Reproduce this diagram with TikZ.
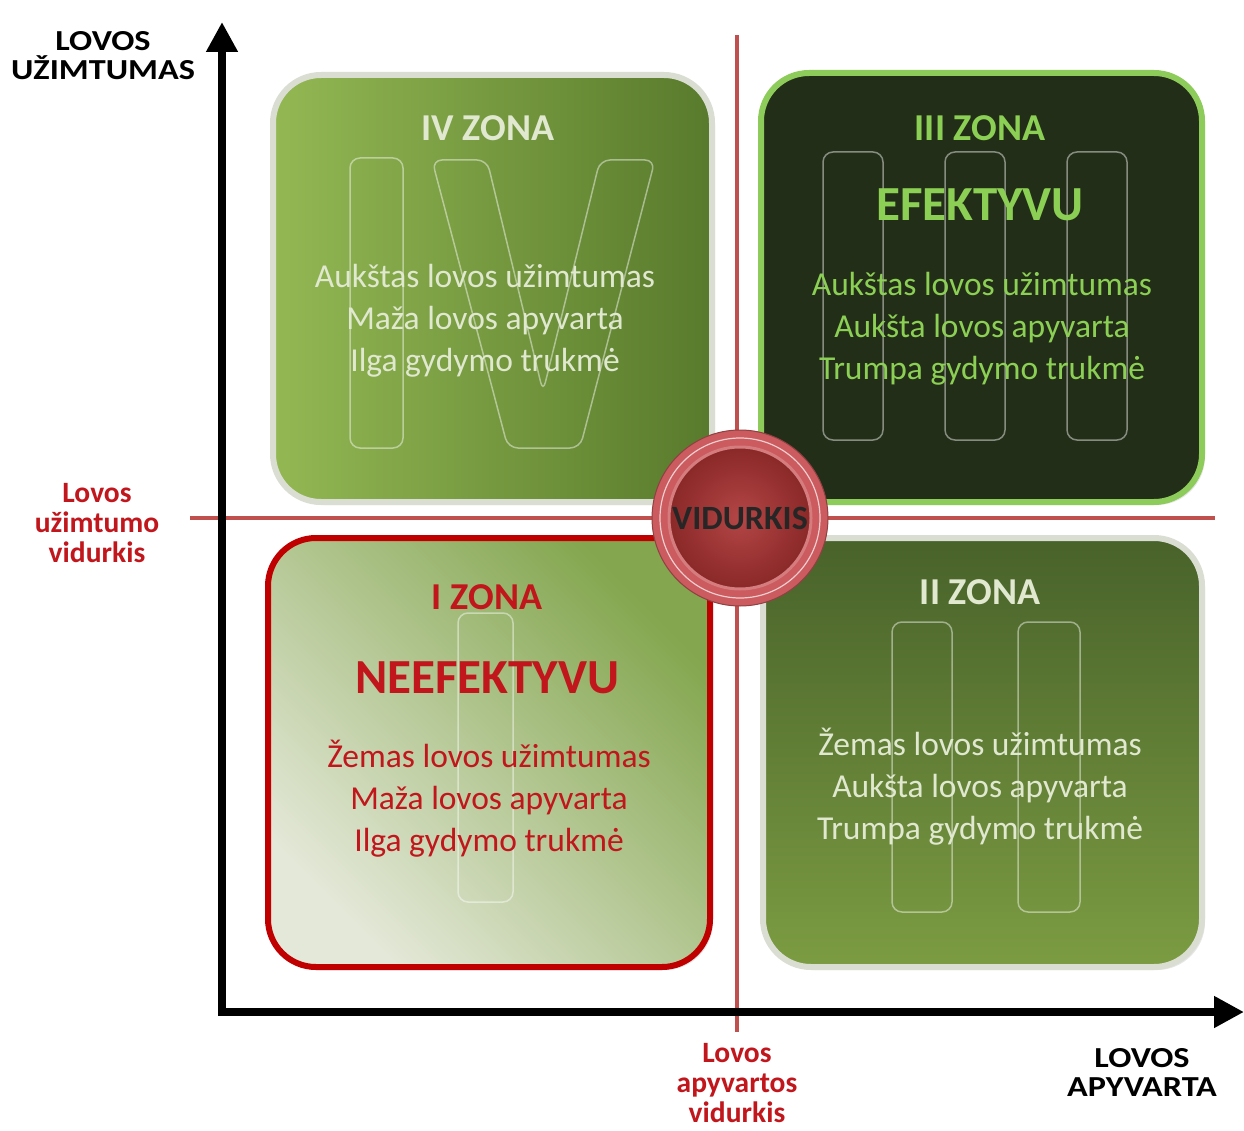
\documentclass[tikz,border=0pt]{standalone}
\usepackage{fontspec}
\setmainfont{Carlito}
\usetikzlibrary{arrows.meta,shadows}

\definecolor{axisred}{HTML}{C0504D}
\definecolor{labelred}{HTML}{C0161C}
\definecolor{ivL}{HTML}{93B853}
\definecolor{ivR}{HTML}{587A2C}
\definecolor{iiiFill}{HTML}{222E17}
\definecolor{iiiEdge}{HTML}{8DCB5A}
\definecolor{iiiText}{HTML}{8CCF55}
\definecolor{iLight}{HTML}{E4E8D8}
\definecolor{iGreen}{HTML}{83A64E}
\definecolor{iEdge}{HTML}{C00000}
\definecolor{iiTop}{HTML}{48622A}
\definecolor{iiBot}{HTML}{7C9C42}
\definecolor{paleEdge}{HTML}{DADDD2}
\definecolor{paleText}{HTML}{E0E8CF}
\definecolor{ringRed}{HTML}{CB5B5E}
\definecolor{coreIn}{HTML}{B44646}
\definecolor{coreOut}{HTML}{8A2828}

\newcommand{\widetext}[1]{\scalebox{1.18}[1]{#1}}

\begin{document}
\begin{tikzpicture}[x=1pt,y=-1pt,
  zonebox/.style={rounded corners=48, line width=6, inner sep=0pt,
    drop shadow={opacity=0.2, shadow xshift=3pt, shadow yshift=-3pt}},
  guide/.style={axisred, line width=3.5},
  axis/.style={line width=8, -{Triangle[length=30, width=30]}},
  ghost/.style={draw=white, draw opacity=0.45, line width=1.5, rounded corners=10},
  title/.style={font=\bfseries\fontsize{38}{42}\selectfont},
  verdict/.style={font=\bfseries\fontsize{49}{52}\selectfont},
  body/.style={font=\fontsize{33.5}{42}\selectfont, align=center},
  axlabel/.style={font=\bfseries\fontsize{29}{29}\selectfont, align=center},
  meanlabel/.style={font=\bfseries\fontsize{29.5}{30}\selectfont, align=center, text=labelred}
]
\useasboundingbox (0,0) rectangle (1244,1131);

% mean lines
\coordinate (vtop) at (737,35);
\coordinate (vbot) at (737,1032);
\coordinate (hleft) at (190,518);
\coordinate (hright) at (1215,518);
\draw[guide] (vtop) -- (vbot);
\draw[guide] (hleft) -- (hright);

% zone IV
\node[zonebox, draw=paleEdge, left color=ivL, right color=ivR,
      minimum width=439, minimum height=427] (z4) at (492.5,288.5) {};
\draw[ghost] (350,158) rectangle (403,448);
\draw[ghost] (432,160) -- (487,160) -- (543,392) -- (600,160) -- (655,160)
  -- (580,448) -- (508,448) -- cycle;
\node[title, text=paleText] (t4) at (488,128) {IV ZONA};
\node[body, text=paleText] (b4) at (485,321)
  {Aukštas lovos užimtumas\\Maža lovos apyvarta\\Ilga gydymo trukmė};

% zone III
\node[zonebox, draw=iiiEdge, fill=iiiFill,
      minimum width=441, minimum height=429] (z3) at (981.5,287.5) {};
\draw[ghost] (823,152) rectangle (883,440);
\draw[ghost] (945,152) rectangle (1005,440);
\draw[ghost] (1067,152) rectangle (1127,440);
\node[title, text=iiiText] (t3) at (980,128) {III ZONA};
\node[verdict, text=iiiText] (v3) at (980,205) {EFEKTYVU};
\node[body, text=iiiText] (b3) at (982,329)
  {Aukštas lovos užimtumas\\Aukšta lovos apyvarta\\Trumpa gydymo trukmė};

% zone I
\node[zonebox, draw=iEdge, bottom color=iLight, top color=iGreen,
      shading angle=-45,
      minimum width=442, minimum height=429] (z1) at (489,752.5) {};
\draw[ghost] (458,613) rectangle (513,902);
\node[title, text=labelred] (t1) at (487,597) {I ZONA};
\node[verdict, text=labelred] (v1) at (487,678) {NEEFEKTYVU};
\node[body, text=labelred] (b1) at (489,799)
  {Žemas lovos užimtumas\\Maža lovos apyvarta\\Ilga gydymo trukmė};

% zone II
\node[zonebox, draw=paleEdge, top color=iiTop, bottom color=iiBot,
      minimum width=439, minimum height=429] (z2) at (982.5,752.5) {};
\draw[ghost] (892,622) rectangle (952,912);
\draw[ghost] (1018,622) rectangle (1080,912);
\node[title, text=paleText] (t2) at (980,592) {II ZONA};
\node[body, text=paleText] (b2) at (980,787)
  {Žemas lovos užimtumas\\Aukšta lovos apyvarta\\Trumpa gydymo trukmė};

% centre badge
\node[circle, fill=ringRed, draw=ringRed!70!black, line width=1,
      minimum size=176, inner sep=0pt] (ring) at (740,518) {};
\node[circle, draw=white!70!ringRed, line width=1.2, minimum size=160,
      inner sep=0pt] (halo) at (ring.center) {};
\node[circle, inner color=coreIn, outer color=coreOut, draw=ringRed!80!white,
      line width=3, minimum size=142, inner sep=0pt,
      font=\bfseries\fontsize{34}{35}\selectfont, text=black!85] (mean) at (ring.center) {VIDURKIS};

% axes
\coordinate (origin) at (222,1012);
\coordinate (ytip) at (222,22);
\coordinate (xtip) at (1244,1012);
\draw[axis] ([yshift=4]origin) -- (ytip);
\draw[axis] ([xshift=-4]origin) -- (xtip);

% labels
\node[axlabel] (ylab) at (103,56) {\widetext{LOVOS}\\\widetext{UŽIMTUMAS}};
\node[axlabel] (xlab) at (1142,1072) {\widetext{LOVOS}\\\widetext{APYVARTA}};
\node[meanlabel] (hmean) at (97,523) {Lovos\\užimtumo\\vidurkis};
\node[meanlabel] (vmean) at (737,1083) {Lovos\\apyvartos\\vidurkis};
\end{tikzpicture}
\end{document}
